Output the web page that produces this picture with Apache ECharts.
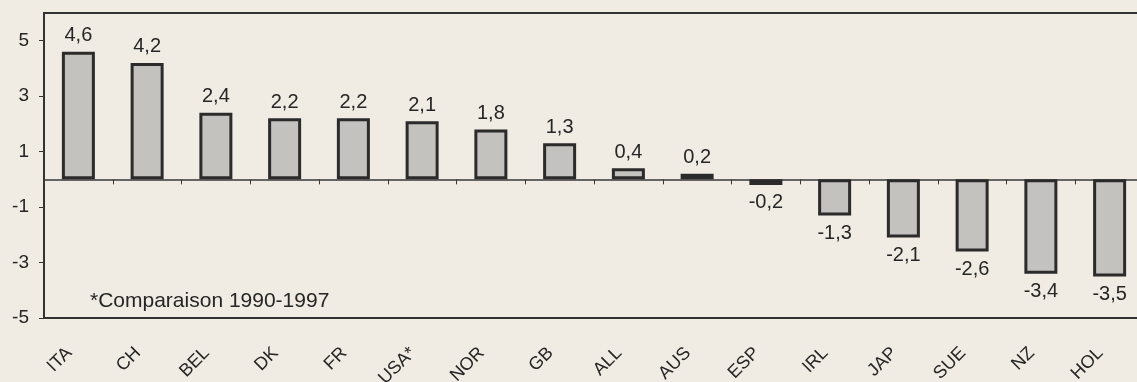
<!DOCTYPE html>
<html>
<head>
<meta charset="utf-8">
<script src="https://cdn.jsdelivr.net/npm/echarts@6/dist/echarts.min.js"></script>
<style>
html,body{margin:0;padding:0;background:#f0ebe3;}
#c{width:1137px;height:382px;}
</style>
</head>
<body>
<div id="c"></div>
<script>
const categories = ['ITA','CH','BEL','DK','FR','USA*','NOR','GB','ALL','AUS','ESP','IRL','JAP','SUE','NZ','HOL'];
const values = [4.6, 4.2, 2.4, 2.2, 2.2, 2.1, 1.8, 1.3, 0.4, 0.2, -0.2, -1.3, -2.1, -2.6, -3.4, -3.5];
const yTicks = [-5, -3, -1, 1, 3, 5];
const note = '*Comparaison 1990-1997';

const FONT = '"Liberation Sans", Arial, sans-serif';
const TXT = '#262626';

const barData = values.map(v => ({
  value: v,
  label: { position: v >= 0 ? 'top' : 'bottom', distance: v >= 0 ? 6 : 8 }
}));

const chart = echarts.init(document.getElementById('c'));
chart.setOption({
  backgroundColor: '#f0ebe3',
  animation: false,
  grid: { left: 44, top: 13, width: 1100, height: 305, show: true, borderColor: '#333', borderWidth: 2, containLabel: false, outerBoundsMode: 'none' },
  xAxis: [
    {
      type: 'category', data: categories, position: 'bottom',
      axisLine: { onZero: true, lineStyle: { color: '#3a3a3a', width: 1.5 } },
      axisTick: { show: true, length: 5, lineStyle: { color: '#3a3a3a', width: 1 } },
      axisLabel: { show: false }, splitLine: { show: false }
    },
    {
      type: 'category', data: categories, position: 'bottom',
      axisLine: { show: false, onZero: false }, axisTick: { show: false },
      axisLabel: { show: true, rotate: 45, margin: 23, padding: [0, 13, 0, 0], fontFamily: FONT, fontSize: 18, color: TXT, interval: 0 },
      splitLine: { show: false }
    }
  ],
  yAxis: {
    type: 'value', min: -5, max: 6,
    axisLine: { show: true, lineStyle: { color: '#333', width: 2 } },
    axisTick: { show: true, length: 5, customValues: yTicks, lineStyle: { color: '#333', width: 1 } },
    axisLabel: { customValues: yTicks, margin: 15, fontFamily: FONT, fontSize: 19, color: TXT },
    splitLine: { show: false }
  },
  series: [{
    type: 'bar', xAxisIndex: 0, data: barData, barWidth: 33,
    itemStyle: { color: '#c4c2be', borderColor: '#2b2b2b', borderWidth: 3 },
    label: {
      show: true, fontFamily: FONT, fontSize: 20, color: TXT,
      formatter: p => p.value.toFixed(1).replace('.', ',')
    }
  }],
  graphic: [{
    type: 'text', left: 90, top: 291,
    style: { text: note, font: '21px ' + FONT, fill: TXT }
  }]
});
</script>
</body>
</html>
